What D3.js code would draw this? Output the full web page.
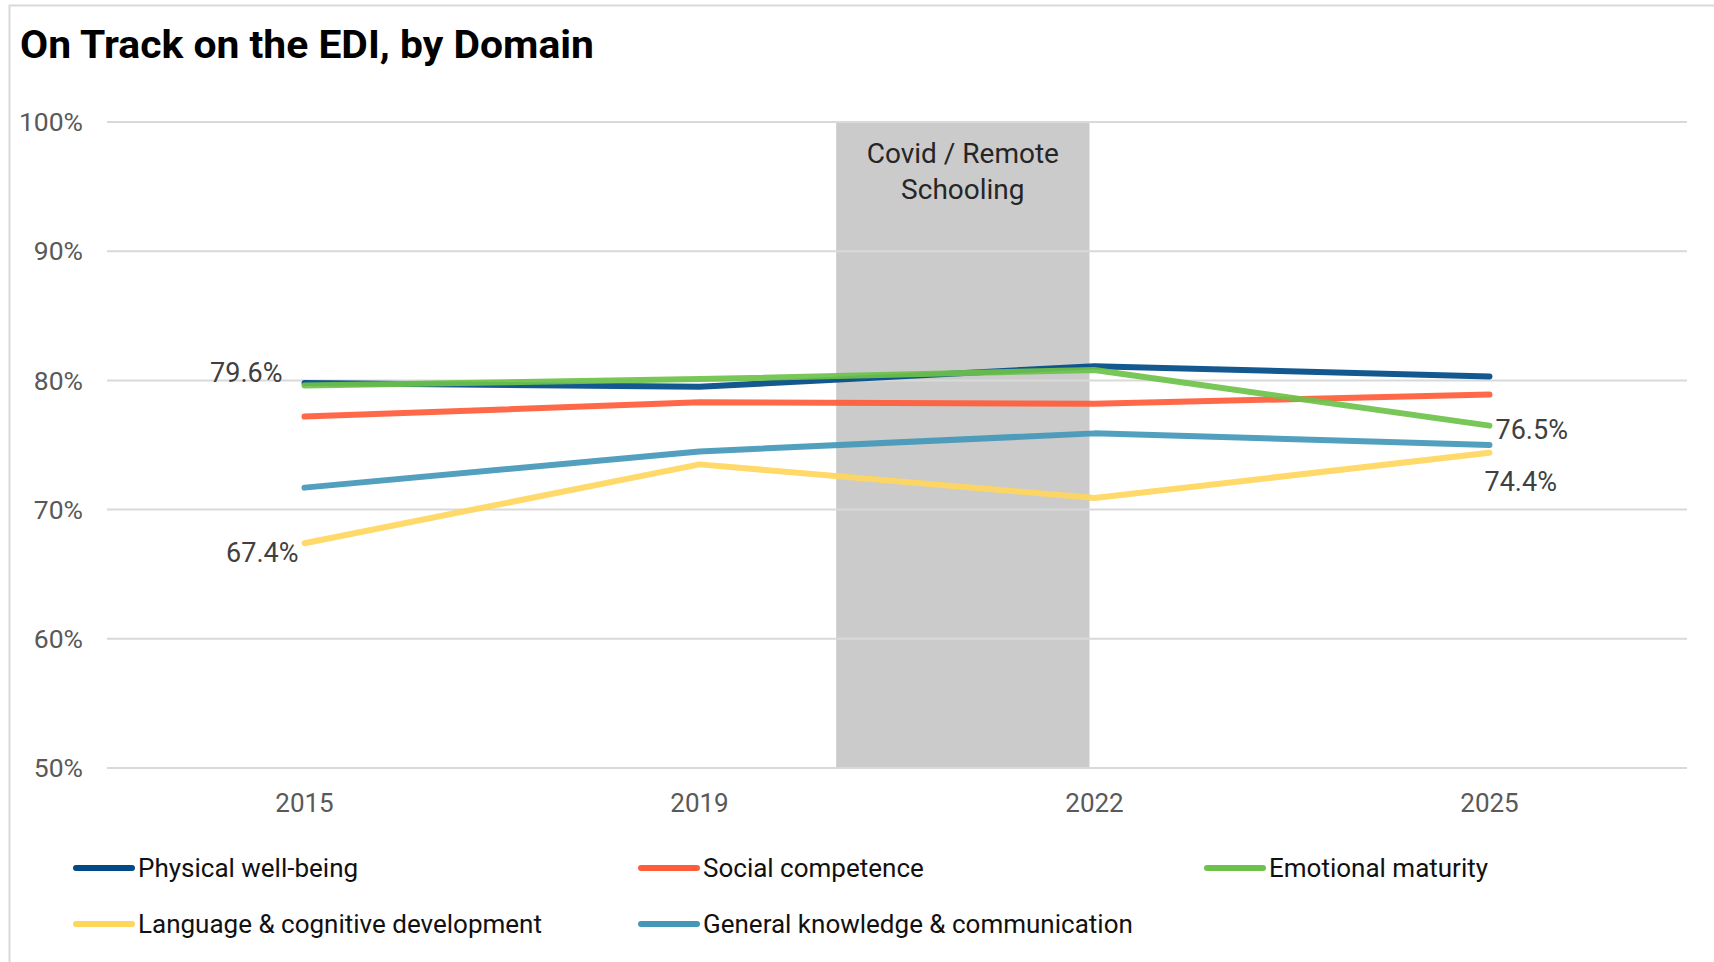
<!doctype html>
<html>
<head>
<style>
    body { margin: 0; background: #fff; }
    svg { display: block; font-family: Roboto, "Liberation Sans", sans-serif; }
</style>
<script src="https://d3js.org/d3.v7.min.js"></script>
</head>
<body>
<svg width="1714" height="962"></svg>
<script>
    // data
    var years = ["2015", "2019", "2022", "2025"];
    var domains = ["Physical well-being", "Social competence", "Emotional maturity",
                   "Language & cognitive development", "General knowledge & communication"];
    var colors = ["#004a87", "#ff5c39", "#6cc24a", "#ffd65c", "#4398b8"];
    var physical = [79.8, 79.5, 81.1, 80.3];
    var social = [77.2, 78.3, 78.2, 78.9];
    var emotional = [79.6, 80.1, 80.8, 76.5];
    var language = [67.4, 73.5, 70.9, 74.4];
    var general = [71.7, 74.5, 75.9, 75.0];
    var yTicks = [50, 60, 70, 80, 90, 100];
    var covid = [2020, 2022];   // shaded period, in years
    // labelled points: series index, year index
    var callouts = [[2, 0], [3, 0], [2, 3], [3, 3]];

    var series = [physical, social, emotional, language, general];

    var svg = d3.select("svg");
    var pLeft = 107, pRight = 1687, pTop = 122, pBottom = 768;

    var x = d3.scalePoint().domain(years).range([pLeft, pRight]).padding(0.5);
    var y = d3.scaleLinear().domain([50, 100]).range([pBottom, pTop]);

    // map a year onto the category axis (linear between neighbouring categories)
    var xYear = d3.scaleLinear().domain(years.map(Number)).range(years.map(function(d) { return x(d); }));

    // chart border
    svg.append("rect")
        .attr("x", 9.5).attr("y", 5.5)
        .attr("width", 1720).attr("height", 980)
        .attr("fill", "none")
        .attr("stroke", "#d9d9d9")
        .attr("stroke-width", 2);

    svg.append("text")
        .attr("x", 20).attr("y", 58)
        .attr("font-size", 38)
        .attr("font-weight", "bold")
        .attr("fill", "#000")
        .attr("textLength", 574)
        .attr("lengthAdjust", "spacingAndGlyphs")
        .text("On Track on the EDI, by Domain");

    // shaded covid period (drawn like a column with a small gap)
    var gap = 5;
    svg.append("rect")
        .attr("x", xYear(covid[0]) + gap)
        .attr("y", pTop)
        .attr("width", xYear(covid[1]) - xYear(covid[0]) - 2 * gap)
        .attr("height", pBottom - pTop)
        .attr("fill", "#cbcbcb");

    // grid
    svg.append("g").selectAll("line")
        .data(yTicks)
        .enter().append("line")
        .attr("x1", pLeft).attr("x2", pRight)
        .attr("y1", function(d) { return y(d); })
        .attr("y2", function(d) { return y(d); })
        .attr("stroke", "#d9d9d9")
        .attr("stroke-width", 2);

    svg.append("g").selectAll("text")
        .data(yTicks)
        .enter().append("text")
        .attr("x", 83)
        .attr("y", function(d) { return y(d); })
        .attr("dy", "0.35em")
        .attr("text-anchor", "end")
        .attr("font-size", 26.5)
        .attr("fill", "#595959")
        .text(function(d) { return d + "%"; });

    svg.append("g").selectAll("text")
        .data(years)
        .enter().append("text")
        .attr("x", function(d) { return x(d); })
        .attr("y", 803)
        .attr("dy", "0.35em")
        .attr("text-anchor", "middle")
        .attr("font-size", 26)
        .attr("fill", "#595959")
        .text(function(d) { return d; });

    var cx = (xYear(covid[0]) + xYear(covid[1])) / 2;
    var covidText = svg.append("text")
        .attr("text-anchor", "middle")
        .attr("font-size", 28)
        .attr("fill", "#262626");
    covidText.append("tspan").attr("x", cx).attr("y", 163).text("Covid / Remote");
    covidText.append("tspan").attr("x", cx).attr("y", 199).text("Schooling");

    var line = d3.line()
        .x(function(d, i) { return x(years[i]); })
        .y(function(d) { return y(d); });

    // draw order so green sits above blue at the start, like the original
    var order = [4, 3, 1, 0, 2];
    svg.append("g").selectAll("path")
        .data(order)
        .enter().append("path")
        .attr("d", function(k) { return line(series[k]); })
        .attr("fill", "none")
        .attr("stroke", function(k) { return colors[k]; })
        .attr("stroke-width", 6)
        .attr("stroke-linecap", "round")
        .attr("stroke-linejoin", "round")
        .attr("opacity", 0.92);

    // value labels, offsets as placed in the original
    var labelDx = [-22, -6, 6, -5];
    var labelDy = [-13, 9, 4, 29];
    var labelAnchor = ["end", "end", "start", "start"];
    svg.append("g").selectAll("text")
        .data(callouts)
        .enter().append("text")
        .attr("x", function(c, i) { return x(years[c[1]]) + labelDx[i]; })
        .attr("y", function(c, i) { return y(series[c[0]][c[1]]) + labelDy[i]; })
        .attr("dy", "0.35em")
        .attr("text-anchor", function(c, i) { return labelAnchor[i]; })
        .attr("font-size", 27)
        .attr("fill", "#404040")
        .text(function(c) { return series[c[0]][c[1]].toFixed(1) + "%"; });

    // legend
    var legX = [74, 639, 1205], legY = [868, 924];
    var leg = svg.append("g").selectAll("g")
        .data(domains)
        .enter().append("g")
        .attr("transform", function(d, i) {
            return "translate(" + legX[i % 3] + "," + legY[Math.floor(i / 3)] + ")";
        });
    leg.append("line")
        .attr("x1", 2).attr("x2", 58)
        .attr("stroke", function(d, i) { return colors[i]; })
        .attr("stroke-width", 6)
        .attr("stroke-linecap", "round");
    leg.append("text")
        .attr("x", 64)
        .attr("dy", "0.35em")
        .attr("font-size", 26)
        .attr("fill", "#111")
        .text(function(d) { return d; });
</script>
</body>
</html>
